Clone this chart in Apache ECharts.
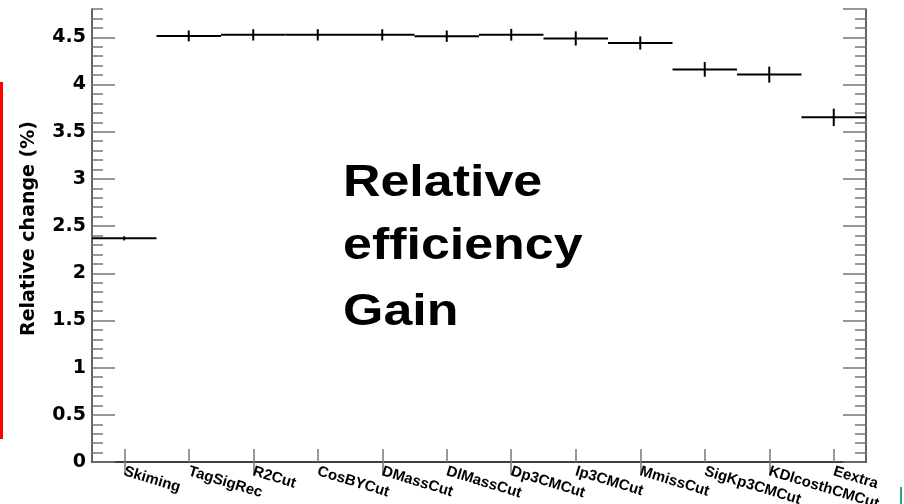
<!DOCTYPE html>
<html>
<head>
<meta charset="utf-8">
<script src="https://cdn.jsdelivr.net/npm/echarts@6/dist/echarts.min.js"></script>
<style>html,body{margin:0;padding:0;background:#fff;}#c{width:904px;height:504px;}</style>
</head>
<body>
<div id="c"></div>
<script>
const categories = ['Skiming','TagSigRec','R2Cut','CosBYCut','DMassCut','DlMassCut','Dp3CMCut','Ip3CMCut','MmissCut','SigKp3CMCut','KDlcosthCMCut','Eextra'];
const values = [2.37, 4.515, 4.526, 4.526, 4.526, 4.512, 4.527, 4.488, 4.44, 4.16, 4.105, 3.652];
const errors = [0.022, 0.058, 0.06, 0.06, 0.06, 0.06, 0.062, 0.075, 0.07, 0.078, 0.085, 0.092];
const yMin = 0, yMax = 4.8, yMajor = 0.5, yMinor = 0.1;
const yTitle = 'Relative change (%)';
const noteLines = ['Relative', 'efficiency', 'Gain'];

const data = categories.map((c, i) => [i, values[i], errors[i]]);
const chart = echarts.init(document.getElementById('c'), null, {renderer: 'canvas'});

const frameColor = '#333';
const tickColor = '#777';
const baseY = {
  type: 'value', min: yMin, max: yMax, splitLine: {show: false}
};
const option = {
  backgroundColor: '#fff',
  animation: false,
  grid: {left: 92, right: 38, top: 9, bottom: 42, containLabel: false, outerBoundsMode: 'none'},
  xAxis: [
    {
      type: 'category', data: categories, position: 'bottom', boundaryGap: true,
      axisLine: {show: true, lineStyle: {color: frameColor, width: 1.5}},
      axisTick: {show: true, inside: true, alignWithLabel: true, length: 13, lineStyle: {color: tickColor, width: 1.5}},
      axisLabel: {show: true, interval: 0, rotate: -17, margin: 9, color: '#000', fontFamily: 'Liberation Sans', fontWeight: 'bold', fontSize: 15},
      splitLine: {show: false}
    },
    {
      type: 'category', data: categories, position: 'top', boundaryGap: true,
      axisLine: {show: true, lineStyle: {color: frameColor, width: 1.5}},
      axisTick: {show: true, inside: true, alignWithLabel: true, length: 13, lineStyle: {color: tickColor, width: 1.5}},
      axisLabel: {show: false},
      splitLine: {show: false}
    }
  ],
  yAxis: [
    Object.assign({}, baseY, {
      position: 'left', interval: yMajor,
      name: yTitle, nameLocation: 'middle', nameRotate: 90, nameGap: 53,
      nameTextStyle: {fontFamily: 'DejaVu Sans', fontWeight: 'bold', fontSize: 19, color: '#000', padding: [0, 0, 0, 14]},
      axisLine: {show: true, lineStyle: {color: frameColor, width: 1.5}},
      axisTick: {show: true, inside: true, length: 23, lineStyle: {color: tickColor, width: 1.5}},
      axisLabel: {show: true, margin: 6, color: '#000', fontFamily: 'DejaVu Sans', fontWeight: 'bold', fontSize: 19, showMaxLabel: false}
    }),
    Object.assign({}, baseY, {
      position: 'left', interval: yMinor,
      axisLine: {show: false},
      axisTick: {show: true, inside: true, length: 11, lineStyle: {color: tickColor, width: 1.5}},
      axisLabel: {show: false}
    }),
    Object.assign({}, baseY, {
      position: 'right', interval: yMajor,
      axisLine: {show: true, lineStyle: {color: frameColor, width: 1.5}},
      axisTick: {show: true, inside: true, length: 23, lineStyle: {color: tickColor, width: 1.5}},
      axisLabel: {show: false}
    }),
    Object.assign({}, baseY, {
      position: 'right', interval: yMinor,
      axisLine: {show: false},
      axisTick: {show: true, inside: true, length: 11, lineStyle: {color: tickColor, width: 1.5}},
      axisLabel: {show: false}
    })
  ],
  series: [{
    type: 'custom',
    xAxisIndex: 0, yAxisIndex: 0,
    encode: {x: 0, y: 1},
    data: data,
    renderItem: function (params, api) {
      const i = api.value(0), v = api.value(1), e = api.value(2);
      const c = api.coord([i, v]);
      const w = api.size([1, 0])[0];
      const hi = api.coord([i, v + e]);
      const lo = api.coord([i, v - e]);
      return {
        type: 'group',
        children: [
          {type: 'line', shape: {x1: c[0] - w / 2, y1: c[1], x2: c[0] + w / 2, y2: c[1]}, style: {stroke: '#000', lineWidth: 2}},
          {type: 'line', shape: {x1: c[0], y1: hi[1], x2: c[0], y2: lo[1]}, style: {stroke: '#000', lineWidth: 2}}
        ]
      };
    }
  }],
  graphic: [
    {type: 'rect', left: 0, top: 82, shape: {width: 3, height: 357}, style: {fill: '#ff0000'}, silent: true},
    {type: 'rect', left: 900, top: 487, shape: {width: 2, height: 17}, style: {fill: '#2aa38a'}, silent: true},
    {type: 'text', x: 343, y: 184, scaleX: 1.18, style: {text: noteLines[0], font: 'bold 44px "Liberation Sans"', fill: '#000', align: 'left', verticalAlign: 'middle'}},
    {type: 'text', x: 343, y: 247, scaleX: 1.18, style: {text: noteLines[1], font: 'bold 44px "Liberation Sans"', fill: '#000', align: 'left', verticalAlign: 'middle'}},
    {type: 'text', x: 343, y: 313, scaleX: 1.18, style: {text: noteLines[2], font: 'bold 44px "Liberation Sans"', fill: '#000', align: 'left', verticalAlign: 'middle'}}
  ]
};
chart.setOption(option);
</script>
</body>
</html>
